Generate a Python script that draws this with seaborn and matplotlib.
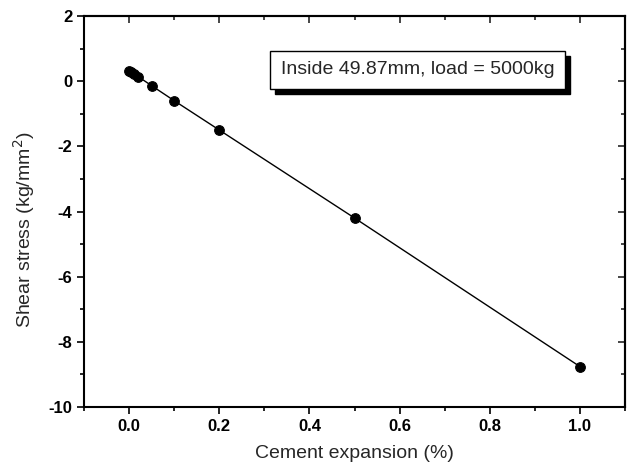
import matplotlib
matplotlib.use("Agg")
import matplotlib.pyplot as plt
import seaborn as sns
import pandas as pd
from matplotlib.ticker import MultipleLocator
from matplotlib.patches import Rectangle

expansion = [0.0, 0.005, 0.01, 0.02, 0.05, 0.1, 0.2, 0.5, 1.0]
shear = [0.32, 0.27, 0.23, 0.14, -0.14, -0.6, -1.5, -4.2, -8.76]
xticks = [0.0, 0.2, 0.4, 0.6, 0.8, 1.0]
yticks = [-10, -8, -6, -4, -2, 0, 2]
annotation = "Inside 49.87mm, load = 5000kg"

sns.set_theme(style="ticks")
plt.rcParams['font.family'] = ['Liberation Sans', 'DejaVu Sans']

df = pd.DataFrame({"x": expansion, "y": shear})
fig = plt.figure(figsize=(6.32, 4.70), dpi=100)
ax = fig.add_axes([0.133, 0.134, 0.856, 0.832])

sns.lineplot(data=df, x="x", y="y", ax=ax, color="black", linewidth=1.0,
             marker="o", markersize=7, markeredgecolor="black",
             markerfacecolor="black")

ax.set_xlim(-0.1, 1.1)
ax.set_ylim(-10, 2)
ax.set_xticks(xticks)
ax.set_xticklabels([f"{t:.1f}" for t in xticks])
ax.set_yticks(yticks)
ax.set_yticklabels([str(t) for t in yticks])
ax.xaxis.set_minor_locator(MultipleLocator(0.1))
ax.yaxis.set_minor_locator(MultipleLocator(1))
ax.tick_params(which="both", direction="out", width=1.2, labelsize=12,
               top=False, right=False, colors="black")
ax.tick_params(which="major", length=5)
ax.tick_params(which="minor", length=3)
for lab in ax.get_xticklabels() + ax.get_yticklabels():
    lab.set_fontweight("bold")

sec_x = ax.secondary_xaxis("top")
sec_x.set_xticks(xticks)
sec_x.xaxis.set_minor_locator(MultipleLocator(0.1))
sec_x.tick_params(which="both", direction="in", labeltop=False, width=1.2)
sec_x.tick_params(which="major", length=5)
sec_x.tick_params(which="minor", length=3)
sec_y = ax.secondary_yaxis("right")
sec_y.set_yticks(yticks)
sec_y.yaxis.set_minor_locator(MultipleLocator(1))
sec_y.tick_params(which="both", direction="in", labelright=False, width=1.2)
sec_y.tick_params(which="major", length=5)
sec_y.tick_params(which="minor", length=3)

for s in ax.spines.values():
    s.set_linewidth(1.5)
    s.set_color("black")
for s in list(sec_x.spines.values()) + list(sec_y.spines.values()):
    s.set_linewidth(1.5)

ax.set_xlabel("Cement expansion (%)", fontsize=14, labelpad=8)
ax.set_ylabel("Shear stress (kg/mm$^2$)", fontsize=14)
ax.yaxis.set_label_coords(-0.087, 0.453)

txt = ax.text(0.617, 0.862, annotation, transform=ax.transAxes, fontsize=14,
              ha="center", va="center", zorder=5,
              bbox=dict(boxstyle="square,pad=0.55", facecolor="white",
                        edgecolor="black", linewidth=1.0))
fig.canvas.draw()
bb = txt.get_bbox_patch().get_window_extent()
shadow = Rectangle((bb.x0 + 5, bb.y0 - 5), bb.width, bb.height,
                   transform=None, facecolor="black", edgecolor="black",
                   zorder=4)
ax.add_artist(shadow)

ax.grid(False)
fig.savefig("out.png", dpi=100)
